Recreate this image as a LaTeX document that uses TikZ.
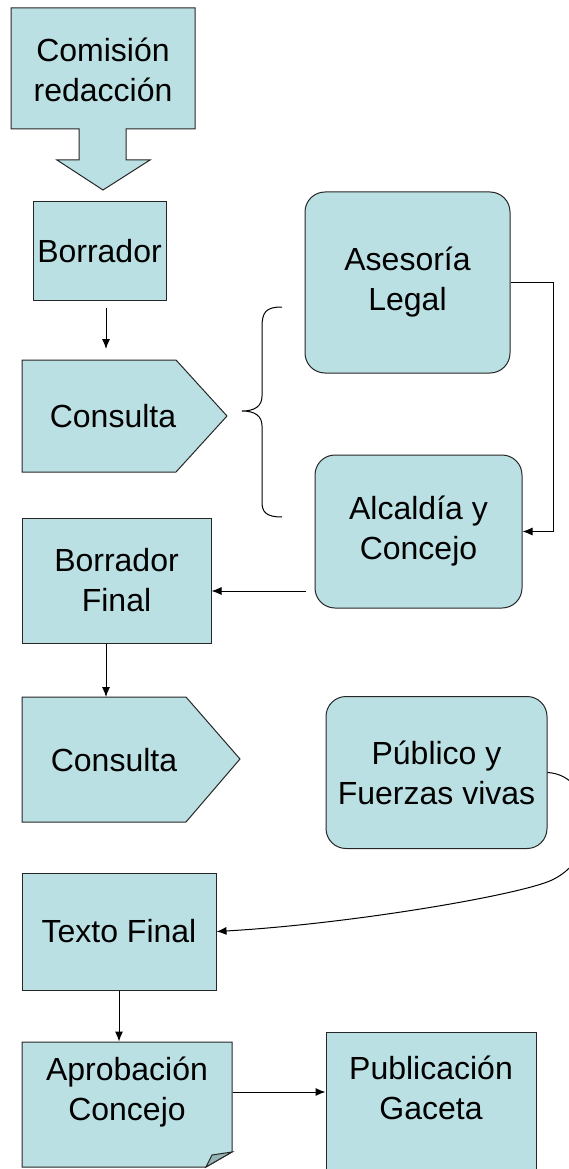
\documentclass[tikz,border=0pt]{standalone}
\usepackage{fontspec}
\setmainfont{Liberation Sans}
\usetikzlibrary{arrows.meta,calc}

\definecolor{boxblue}{RGB}{187,224,227}
\definecolor{foldblue}{RGB}{148,180,183}
\newcommand{\pxu}{0.75pt}

\begin{document}
\begin{tikzpicture}[x=0.75pt,y=-0.75pt]
        \tikzstyle{every path}=[line width=0.75pt]

        \tikzstyle{txt}=[align=center,inner sep=0pt,font=\fontsize{24}{30}\selectfont]
        \tikzstyle{box}=[txt,draw=black!85,fill=boxblue]
        \tikzstyle{rbox}=[box,rounded corners=15pt]
        \tikzstyle{shp}=[draw=black!85,fill=boxblue]
        \tikzstyle{conn}=[-{Latex[length=7.5pt,width=6pt]}]

        \useasboundingbox (0,0) rectangle (568,1169);

        % box with block arrow on top
        \draw[shp] (11,8) -- (195,8) -- (195,129) -- (126,129) -- (126,160) -- (150,160)
                -- (103,190) -- (57,160) -- (79,160) -- (79,129) -- (11,129) -- cycle;
        \node[txt] (comision) at (103,70) {Comisión\\redacción};

        \node[box,minimum width=133*\pxu,minimum height=98*\pxu] (borrador) at (99.5,251) {Borrador};

        % first consulta (signal shape)
        \draw[shp] (22,360) -- (176,360) -- (227,416) -- (176,472) -- (22,472) -- cycle;
        \node[txt] (consulta1) at (113,416) {Consulta};

        % brace
        \draw (282,307) .. controls (266,307) and (262,312) .. (262,327) -- (262,396)
              .. controls (262,406) and (255,411) .. (242,411)
              .. controls (255,411) and (262,416) .. (262,426) -- (262,502)
              .. controls (262,512) and (266,517) .. (282,517);

        \node[rbox,minimum width=205*\pxu,minimum height=181*\pxu] (asesoria) at (407.5,282.5) {Asesoría\\Legal};
        \node[rbox,minimum width=207*\pxu,minimum height=153*\pxu] (alcaldia) at (418.5,531.5) {Alcaldía y\\ Concejo};
        \node[box,minimum width=189*\pxu,minimum height=125*\pxu] (bfinal) at (116.5,580.5) {Borrador\\Final};

        % second consulta (signal shape)
        \draw[shp] (22,697) -- (186,697) -- (240,759) -- (186,822) -- (22,822) -- cycle;
        \node[txt] (consulta2) at (114,760) {Consulta};

        \node[rbox,minimum width=221*\pxu,minimum height=152*\pxu] (publico) at (436.5,772.5) {Público y\\Fuerzas vivas};
        \node[box,minimum width=194*\pxu,minimum height=117*\pxu] (textofinal) at (119,931.5) {Texto Final};

        % folded corner note
        \draw[shp] (22,1042) -- (232,1042) -- (232,1152) -- (206,1167) -- (22,1167) -- cycle;
        \draw[shp,fill=foldblue] (206,1167) -- (212,1155) -- (232,1152) -- cycle;
        \node[txt,minimum width=210*\pxu,minimum height=100*\pxu] (aprobacion) at (127,1092) {Aprobación\\Concejo};

        \node[box,minimum width=210*\pxu,minimum height=148*\pxu] (publicacion) at (431,1106) {};
        \node[txt] (publicaciontxt) at (431,1088) {Publicación\\Gaceta};

        % free ends
        \coordinate (c1in) at (106,349);
        \coordinate (c2in) at (106,697);
        \coordinate (alcout) at (306,591);
        \coordinate (legalx) at (553,400);

        \draw[conn] ($(c1in |- borrador.south)+(0,7)$) -- (c1in);         % borrador -> consulta
        \draw[conn] (asesoria.east) -- (asesoria.east -| legalx)
                    -- (alcaldia.east -| legalx) -- (alcaldia.east);      % legal -> alcaldia
        \draw[conn] (alcout) -- (alcout -| bfinal.east);                  % alcaldia -> final
        \draw[conn] (c2in |- bfinal.south) -- (c2in);                     % final -> consulta
        \draw[conn] (publico.east) .. controls (595,775) and (605,855) .. (552,880)
                    .. controls (520,895) and (350,924) .. (textofinal.east); % publico -> texto
        \draw[conn] (textofinal.south) -- (textofinal.south |- aprobacion.north); % texto -> aprobacion
        \draw[conn] (aprobacion.east) -- (aprobacion.east -| publicacion.west);   % aprobacion -> gaceta

\end{tikzpicture}
\end{document}
